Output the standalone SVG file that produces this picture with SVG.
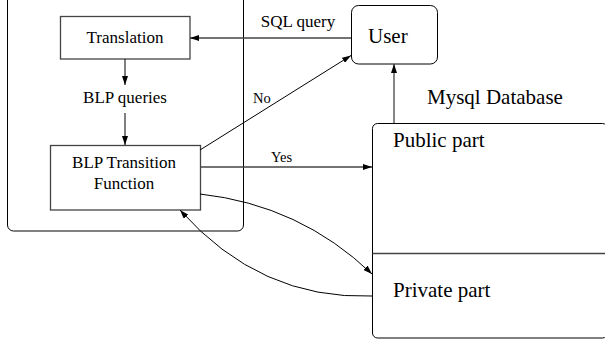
<svg xmlns="http://www.w3.org/2000/svg" width="605" height="342" viewBox="0 0 605 342">
<style>
.box{fill:none;stroke:#000;stroke-width:1}
.ln{fill:none;stroke:#000;stroke-width:1}
.g{stroke:#444;stroke-width:1.3}
.t{font-family:"Liberation Serif","Times New Roman",serif;fill:#000}
.m{font-size:17px;text-anchor:middle}
.b{font-size:21px}
.s{font-size:14.5px}
</style>
<defs>
<marker id="ah" markerWidth="9" markerHeight="6" refX="9" refY="3" orient="auto" markerUnits="userSpaceOnUse">
<path d="M0,0 L9,3 L0,6 Z" fill="#000"/>
</marker>
</defs>
<rect width="605" height="342" fill="#fff"/>
<g id="frame"><rect class="box" x="7.5" y="-20" width="236" height="251" rx="6"/></g>
<g id="translation"><rect class="box g" x="60.5" y="16.5" width="129.5" height="42.5"/><text class="t m" x="125" y="43">Translation</text></g>
<g id="blpq"><text class="t m" x="125" y="103">BLP queries</text></g>
<g id="blptf"><rect class="box g" x="50.5" y="145.5" width="150" height="64.5"/><text class="t m" x="124" y="168">BLP Transition</text><text class="t m" x="124" y="189">Function</text></g>
<g id="user"><rect class="box" x="351.5" y="5.5" width="86" height="58.5" rx="7"/><text class="t b" x="368" y="43">User</text></g>
<g id="db"><text class="t b" x="427" y="104">Mysql Database</text>
<rect class="box" x="372.5" y="123.5" width="235" height="214.5" rx="5"/>
<line class="ln g" x1="372.5" y1="253.5" x2="605" y2="253.5"/>
<text class="t b" x="393" y="147">Public part</text>
<text class="t b" x="393" y="297">Private part</text></g>
<g id="connectors">
<line class="ln" x1="125" y1="59" x2="125" y2="85" marker-end="url(#ah)"/>
<line class="ln" x1="125" y1="113" x2="125" y2="145" marker-end="url(#ah)"/>
<line class="ln g" x1="351" y1="38" x2="190" y2="38" marker-end="url(#ah)"/>
<line class="ln" x1="200" y1="150" x2="351" y2="55.5" marker-end="url(#ah)"/>
<line class="ln g" x1="200" y1="167" x2="372" y2="167" marker-end="url(#ah)"/>
<line class="ln g" x1="394" y1="123" x2="394" y2="64" marker-end="url(#ah)"/>
<path class="ln" d="M200,194 Q300,205 372,274" marker-end="url(#ah)"/>
<path class="ln" d="M372,296 Q260,300 180,210" marker-end="url(#ah)"/>
<text class="t m" x="298" y="27">SQL query</text>
<text class="t s" x="253" y="103">No</text>
<text class="t s" x="271" y="162">Yes</text>
</g>
</svg>
